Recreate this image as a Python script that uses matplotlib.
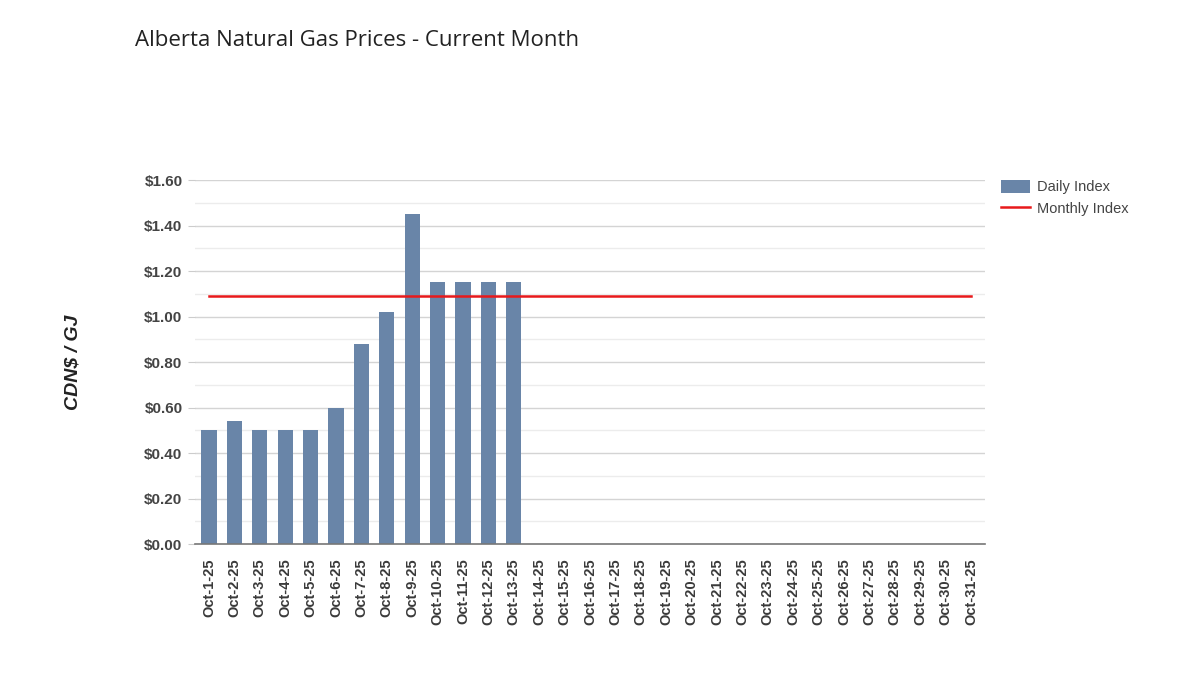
import matplotlib
matplotlib.use("Agg")
import matplotlib.pyplot as plt
from matplotlib.ticker import MultipleLocator, FuncFormatter
from matplotlib.patches import Patch
from matplotlib.lines import Line2D

dates = [f"Oct-{d}-25" for d in range(1, 32)]
daily_index = [0.50, 0.54, 0.50, 0.50, 0.50, 0.60, 0.88, 1.02, 1.45, 1.15, 1.15, 1.15, 1.15,
               0, 0, 0, 0, 0, 0, 0, 0, 0, 0, 0, 0, 0, 0, 0, 0, 0, 0]
monthly_index = [1.09] * 31

title = "Alberta Natural Gas Prices - Current Month"
ylabel = "CDN$ / GJ"

fig = plt.figure(figsize=(12, 6.95), dpi=100)
ax = fig.add_axes([0.1625, 0.217, 0.8208 - 0.1625, 0.741 - 0.217])

x = list(range(len(dates)))
ax.bar(x, daily_index, width=0.6, color="#6985a8", zorder=2)
ax.plot(x, monthly_index, color="#e8191b", lw=1.8, zorder=3)

ax.set_xlim(-0.55, len(dates) - 0.45)
ax.set_ylim(0, 1.6)
ax.yaxis.set_major_locator(MultipleLocator(0.2))
ax.yaxis.set_minor_locator(MultipleLocator(0.1))
ax.yaxis.set_major_formatter(FuncFormatter(lambda v, p: f"${v:.2f}"))
ax.grid(axis="y", which="major", color="#d4d4d4", lw=1, zorder=0)
ax.grid(axis="y", which="minor", color="#ececec", lw=1, zorder=0)

for s in ["top", "right", "left"]:
    ax.spines[s].set_visible(False)
ax.spines["bottom"].set_color("#777777")
ax.spines["bottom"].set_linewidth(1.2)
ax.spines["bottom"].set_zorder(4)

ax.set_xticks(x)
ax.set_xticklabels(dates, rotation=90, fontsize=10.5, fontweight="bold",
                   color="#3a3a3a", family="Liberation Sans")
ax.tick_params(axis="x", length=0, pad=10)
ax.tick_params(axis="y", which="major", length=5, color="#cccccc", pad=4,
               labelsize=11, labelcolor="#444444")
ax.tick_params(axis="y", which="minor", length=0)
for lab in ax.get_yticklabels():
    lab.set_fontweight("bold")
    lab.set_family("Liberation Sans")

fig.text(0.061, (0.217 + 0.741) / 2, ylabel, rotation=90, ha="center", va="center",
         fontsize=14, fontweight="bold", fontstyle="italic", color="#222222",
         family="Liberation Sans")

fig.text(135 / 1200, 1 - 40 / 695, title, ha="left", va="center",
         fontsize=16, color="#222222", family="Open Sans")

handles = [Patch(facecolor="#6985a8", edgecolor="none"),
           Line2D([0], [0], color="#e8191b", lw=1.8)]
leg = fig.legend(handles, ["Daily Index", "Monthly Index"], loc="upper left",
                 bbox_to_anchor=(0.823, 0.76), frameon=False,
                 handlelength=2.0, handleheight=1.0, handletextpad=0.5,
                 labelspacing=0.5, prop={"family": "Liberation Sans", "size": 10.5})
for t in leg.get_texts():
    t.set_color("#444444")

fig.savefig("out.png", dpi=100)
